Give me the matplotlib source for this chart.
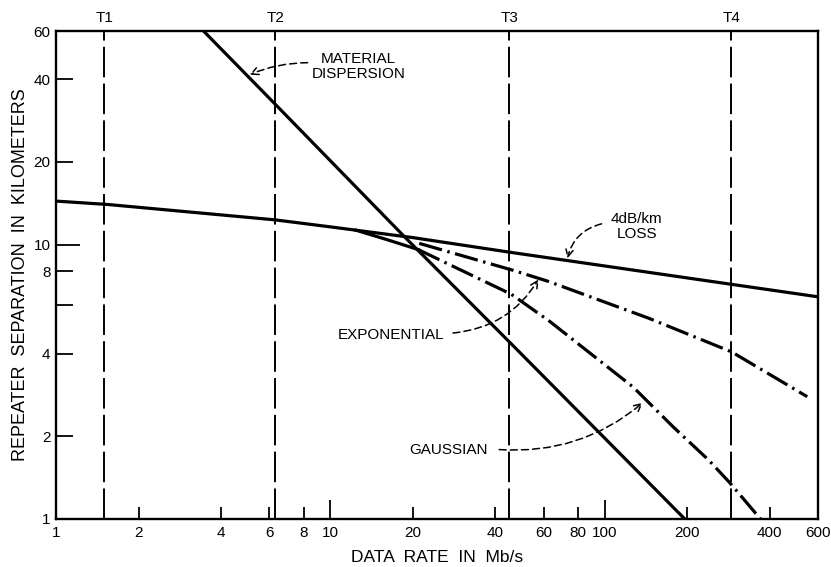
import matplotlib
matplotlib.use("Agg")
import matplotlib.pyplot as plt
from matplotlib.ticker import NullLocator

plt.rcParams['font.family'] = ['Liberation Sans', 'DejaVu Sans']
plt.rcParams['lines.scale_dashes'] = False

# carrier levels (Mb/s)
t_names = ["T1", "T2", "T3", "T4"]
t_rates = [1.5, 6.3, 45, 290]

# 4 dB/km loss limit
loss_rate = [1, 1.54, 6.3, 10, 20, 46, 82, 291, 600]
loss_km = [14.4, 14.0, 12.3, 11.6, 10.6, 9.35, 8.6, 7.16, 6.45]

# material dispersion limit
disp_rate = [3.45, 6.31, 18.6, 46.5, 196]
disp_km = [60, 32.4, 10.7, 4.27, 1]

# solid knee leaving the loss line towards the gaussian curve
knee_rate = [12.4, 16.2, 20.9]
knee_km = [11.28, 10.4, 9.59]

# exponential pulse shape
exp_rate = [21.1, 46.5, 62.4, 144.8, 291, 548]
exp_km = [10.1, 8.05, 7.34, 5.39, 4.06, 2.79]

# gaussian pulse shape
gauss_rate = [20.9, 45.7, 62.9, 127.3, 178.3, 239.4, 287, 370]
gauss_km = [9.59, 6.59, 5.26, 3.02, 2.16, 1.64, 1.35, 1.0]

x_ticks = [1, 2, 4, 6, 8, 10, 20, 40, 60, 80, 100, 200, 400, 600]
y_ticks = [1, 2, 4, 6, 8, 10, 20, 40, 60]
y_labels = ["1", "2", "4", "", "8", "10", "20", "40", "60"]

fig = plt.figure(figsize=(8.31, 5.67), dpi=100)
ax = fig.add_axes([0.0674, 0.0847, 0.9170, 0.8606])
ax.set_xscale("log")
ax.set_yscale("log")
ax.set_xlim(1, 600)
ax.set_ylim(1, 60)

for name, rate in zip(t_names, t_rates):
    ax.axvline(rate, color="black", lw=1.4, linestyle=(0, (22, 4.5)), zorder=1)
    ax.text(rate, 1.012, name, transform=ax.get_xaxis_transform(),
            ha="center", va="bottom", fontsize=11)

ax.plot(loss_rate, loss_km, color="black", lw=2.3)
ax.plot(disp_rate, disp_km, color="black", lw=2.3)
ax.plot(knee_rate, knee_km, color="black", lw=2.3)
dashdot = (0, (17, 4, 1.8, 4))
ax.plot(exp_rate, exp_km, color="black", lw=2.3, linestyle=dashdot)
ax.plot(gauss_rate, gauss_km, color="black", lw=2.3, linestyle=dashdot)

# labels with dashed pointers
arrow = dict(arrowstyle="->", color="black", lw=1.1, linestyle=(0, (5, 3)),
             shrinkA=0, shrinkB=0, mutation_scale=13)
ax.text(12.7, 44.5, "MATERIAL\nDISPERSION", ha="center", va="center",
        fontsize=11, linespacing=1.1)
ax.annotate("", xy=(5.08, 41.6), xytext=(8.27, 46.0),
            arrowprops=dict(arrow, connectionstyle="arc3,rad=0.1"))

ax.text(131, 11.6, "4dB/km\nLOSS", ha="center", va="center",
        fontsize=11, linespacing=1.1)
ax.annotate("", xy=(73.2, 8.9), xytext=(97.5, 11.9),
            arrowprops=dict(arrow, connectionstyle="arc3,rad=0.3"))

ax.text(16.6, 4.68, "EXPONENTIAL", ha="center", va="center", fontsize=11)
ax.annotate("", xy=(57.4, 7.47), xytext=(28.0, 4.76),
            arrowprops=dict(arrow, connectionstyle="arc3,rad=0.25"))

ax.text(26.9, 1.78, "GAUSSIAN", ha="center", va="center", fontsize=11)
ax.annotate("", xy=(137.7, 2.65), xytext=(41.3, 1.79),
            arrowprops=dict(arrow, connectionstyle="arc3,rad=0.2"))

ax.set_xticks(x_ticks)
ax.set_xticklabels([str(v) for v in x_ticks])
ax.set_yticks(y_ticks)
ax.set_yticklabels(y_labels)
ax.xaxis.set_minor_locator(NullLocator())
ax.yaxis.set_minor_locator(NullLocator())
ax.tick_params(axis="x", direction="in", length=9, width=1.3, labelsize=11, pad=5)
ax.tick_params(axis="y", direction="in", length=12, width=1.3, labelsize=11, pad=4)

for tick, v in zip(ax.xaxis.get_major_ticks(), x_ticks):
    if v in (10, 100):
        tick.tick1line.set_markersize(14)
    if v in (1, 600):
        tick.tick1line.set_markersize(0)
for tick, v in zip(ax.yaxis.get_major_ticks(), y_ticks):
    if v == 10:
        tick.tick1line.set_markersize(17)
    if v in (1, 60):
        tick.tick1line.set_markersize(0)

for s in ax.spines.values():
    s.set_linewidth(1.7)

ax.set_xlabel("DATA  RATE  IN  Mb/s", fontsize=12.5, labelpad=7)
ax.set_ylabel("REPEATER  SEPARATION  IN  KILOMETERS", fontsize=13, labelpad=3)

fig.savefig("out.png", dpi=100)
